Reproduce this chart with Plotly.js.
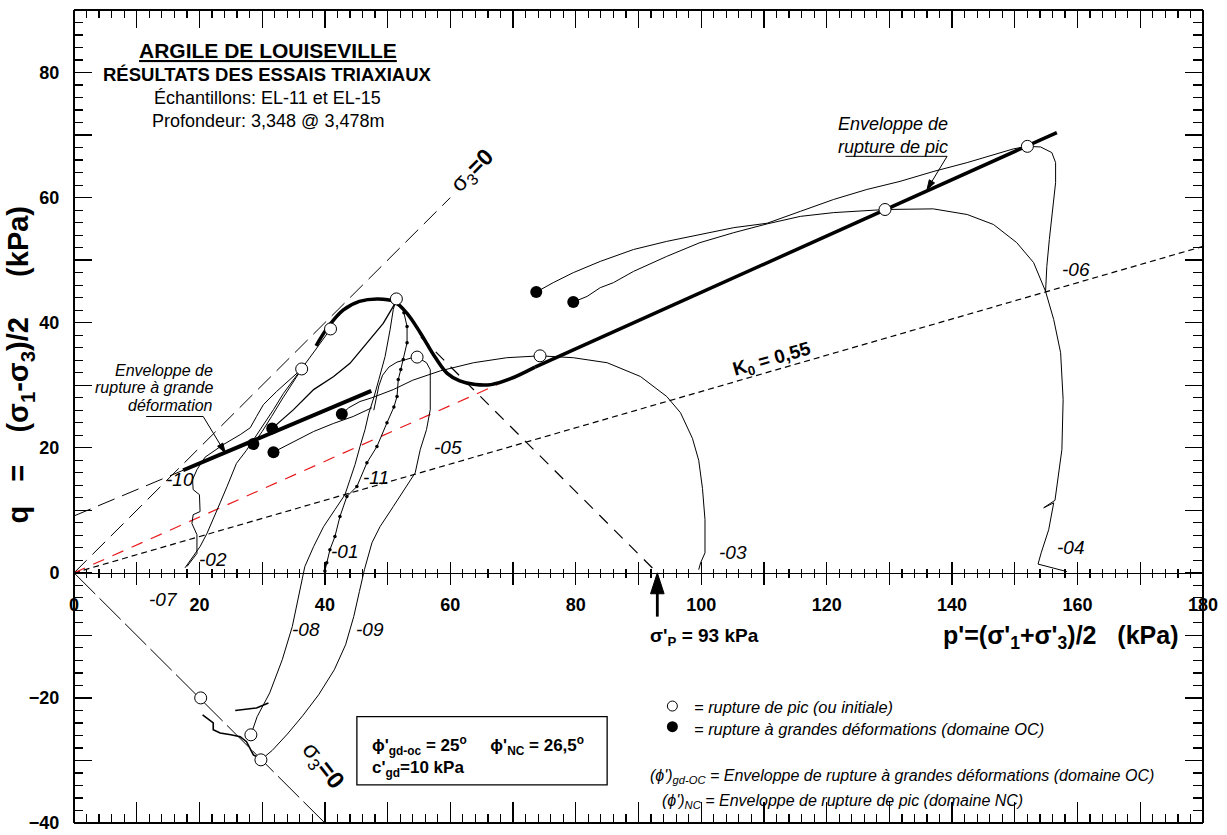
<!DOCTYPE html>
<html><head><meta charset="utf-8">
<script src="https://cdn.plot.ly/plotly-3.0.1.min.js"></script>
<style>html,body{margin:0;padding:0;background:#fff;}#chart{width:1227px;height:835px;}</style>
</head><body><div id="chart"></div>
<script>
// ---------- axis ranges ----------
const pRange = [0, 180];
const qRange = [-40, 90];

// ---------- reference lines ----------
const sig3UpP = [0, 60],   sig3UpQ = [0, 60];
const sig3LoP = [0, 40],   sig3LoQ = [0, -40];
const k0P = [0, 180],      k0Q = [0, 52.2];
const ncExtP = [0, 67.5],  ncExtQ = [0, 30.1];
const sigPP = [55.3, 93],  sigPQ = [37.7, 0];
const ocDashP = [0, 17.4], ocDashQ = [9.1, 16.4];
const ocEnvP = [17.4, 47.4], ocEnvQ = [16.4, 29.1];
const ncCurveP = [38.6, 40.5, 42.9, 45.5, 48.5, 51.0, 53.0, 55.2, 57.5, 59.5, 61.5, 64.0, 66.5, 69.5, 73.5];
const ncCurveQ = [36.3, 39.3, 42.0, 43.4, 43.8, 43.4, 41.6, 38.4, 34.6, 31.9, 30.7, 30.1, 30.1, 31.0, 32.9];
const ncEnvP = [73.5, 156.7], ncEnvQ = [32.9, 70.4];

// ---------- stress paths ----------
const t03P = [99.6, 99.9, 100.6, 100.6, 100.2, 99.6, 98.6, 96.7, 94.5, 90.3, 85.0, 79.6, 74.3, 69.0, 63.7, 58.4, 54.0, 50.9, 47.5, 45.6, 43.8, 42.7];
const t03Q = [0.5, 1.6, 3.2, 8.5, 13.5, 18.0, 21.5, 25.6, 28.2, 31.4, 33.6, 34.4, 34.7, 34.4, 33.6, 32.3, 30.8, 29.3, 28.0, 27.4, 26.4, 25.4];
const t04P = [158.3, 153.7, 154.2, 155.4, 156.2, 154.6, 156.4, 156.7, 157.5, 157.7, 157.3, 156.2, 154.9, 153.0, 150.3, 146.6, 142.4, 137.0, 129.3, 121.1, 115.8, 110.5, 105.2, 99.8, 94.5, 89.2, 86.0, 83.9, 81.8, 79.6];
const t04Q = [0.2, 1.4, 3.2, 6.9, 11.2, 10.4, 11.6, 13.8, 19.7, 27.7, 35.2, 40.5, 45.0, 49.6, 52.8, 55.7, 57.3, 58.2, 58.1, 57.6, 57.0, 55.8, 54.4, 52.8, 50.6, 48.2, 46.4, 45.6, 44.2, 43.3];
const t06P = [154.9, 155.1, 155.5, 156.0, 156.5, 156.5, 155.9, 154.1, 152.0, 149.8, 142.4, 137.1, 131.7, 126.4, 121.1, 115.8, 110.5, 105.2, 99.8, 94.5, 89.2, 83.9, 79.6, 76.4, 73.7];
const t06Q = [45.0, 49.0, 53.3, 58.1, 62.4, 65.6, 67.2, 68.1, 68.2, 67.8, 65.6, 64.2, 62.6, 61.3, 59.7, 57.8, 55.9, 55.2, 54.1, 53.0, 51.7, 49.8, 48.0, 46.4, 44.9];
const t09P = [29.8, 31.6, 34.0, 36.5, 39.0, 41.5, 43.3, 44.6, 45.5, 46.3, 47.5, 48.8, 50.9, 53.0, 54.4, 55.2, 56.2, 56.8, 56.8, 56.8, 56.2, 54.7];
const t09Q = [-29.9, -28.4, -25.8, -22.8, -19.5, -15.5, -11.5, -7.0, -3.0, 0.5, 4.8, 7.4, 10.6, 13.8, 16.0, 19.7, 22.9, 26.1, 28.8, 32.5, 33.6, 34.5];
const t05P = [54.7, 53.9, 52.9, 51.5, 50.2, 49.2, 48.6, 48.2, 47.8];
const t05Q = [34.5, 34.4, 34.1, 33.7, 32.9, 31.6, 29.9, 27.8, 26.0];
const t08P = [28.2, 29.2, 31.2, 33.2, 34.8, 35.9, 36.8, 38.2, 39.8, 41.6, 43.2, 44.0, 44.8, 45.6, 46.4, 47.0, 47.8, 48.6, 49.6, 50.4, 50.9, 51.4];
const t08Q = [-25.9, -23.0, -19.2, -13.9, -8.6, -3.2, 1.0, 4.2, 7.4, 10.1, 12.5, 14.9, 17.3, 20.2, 22.9, 25.5, 28.0, 30.9, 34.6, 38.9, 42.1, 43.8];
const t08bP = [25.7, 27.5, 29.1, 31.0];
const t08bQ = [-22.0, -21.8, -21.6, -20.8];
const t11P = [40.0, 40.3, 40.8, 41.6, 42.4, 43.5, 45.1, 46.7, 48.3, 49.9, 51.0, 51.5, 51.7, 52.1, 52.5, 53.1, 53.1, 52.6];
const t11Q = [0.3, 1.6, 3.7, 5.8, 9.0, 12.2, 13.8, 17.6, 20.2, 24.0, 26.5, 28.2, 30.9, 32.5, 34.1, 36.8, 39.4, 41.6];
const t01P = [51.4, 50.9, 49.3, 46.7, 44.0, 41.4, 38.2, 35.0, 33.0, 31.6];
const t01Q = [43.8, 42.6, 39.9, 36.8, 33.5, 31.4, 29.3, 26.1, 24.4, 23.1];
const t02P = [17.7, 19.0, 20.1, 21.2, 22.2, 23.3, 24.4, 25.9, 27.5, 29.7, 31.8, 33.4, 36.3, 38.6, 40.9];
const t02Q = [0.8, 2.6, 4.2, 6.3, 8.5, 11.2, 13.8, 17.5, 19.6, 22.9, 26.1, 28.7, 32.6, 35.8, 39.0];
const t02bP = [36.3, 34.8, 33.2, 31.5, 30.0, 28.6];
const t02bQ = [32.6, 30.3, 27.8, 25.0, 22.6, 20.6];
const t10P = [18.0, 19.6, 19.6, 18.8, 19.0, 20.1, 20.0, 19.0, 18.9, 19.6, 20.9, 23.8, 26.5, 28.1, 29.1, 30.2, 32.3, 34.5, 36.3];
const t10Q = [1.0, 3.1, 6.1, 7.9, 9.3, 9.8, 12.5, 13.3, 14.9, 16.5, 18.5, 20.5, 22.1, 23.2, 25.0, 26.9, 29.0, 31.0, 32.6];
const t12P = [31.8, 33.2, 35.0, 38.2, 41.4, 44.5, 47.5];
const t12Q = [19.3, 20.0, 21.0, 22.6, 23.9, 25.0, 26.4];
const t07P = [20.5, 21.2, 22.2, 22.2, 23.3, 25.0, 26.5, 27.5, 28.6, 29.8];
const t07Q = [-22.7, -23.3, -24.0, -25.1, -25.6, -25.9, -26.2, -27.0, -29.1, -29.8];

// ---------- failure points ----------
const openP = [36.3, 40.9, 51.4, 54.7, 74.3, 129.3, 152.0, 20.2, 28.2, 29.8];
const openQ = [32.6, 39.0, 43.8, 34.5, 34.7, 58.1, 68.2, -20.0, -25.9, -29.9];
const filledP = [28.6, 31.6, 31.8, 42.7, 73.7, 79.6];
const filledQ = [20.6, 23.1, 19.3, 25.4, 44.9, 43.3];
const legendOpenP = [95.4], legendOpenQ = [-21.3];
const legendFillP = [95.4], legendFillQ = [-24.6];

// ---------- arrows (tail, tip) ----------
const arrowGdP = [20.6, 24.1],  arrowGdQ = [25.0, 19.2];
const arrowPicP = [139.2, 136.0], arrowPicQ = [66.6, 61.3];
const arrowSpP = [93, 93],      arrowSpQ = [-7.0, 0.0];

// ---------- test labels ----------
const testLabels = ['-10','-02','-01','-11','-05','-03','-04','-06','-07','-08','-09'];
const testLabelP = [16.9, 22.2, 43.2, 48.2, 59.6, 105.1, 158.9, 159.8, 14.2, 37.0, 47.2];
const testLabelQ = [14.9, 2.1, 3.4, 15.2, 20.0, 3.2, 4.0, 48.5, -4.3, -9.1, -9.1];

const F = 'Liberation Sans, Arial, sans-serif';
const BLK = 'black';
function ln(x, y, width, dash, color, extra) {
  return Object.assign({x: x, y: y, type: 'scatter', mode: 'lines', hoverinfo: 'skip', showlegend: false,
    line: {color: color || BLK, width: width || 1, dash: dash || 'solid'}}, extra || {});
}
function arrow(x, y, width, size) {
  return {x: x, y: y, type: 'scatter', mode: 'lines+markers', hoverinfo: 'skip', showlegend: false,
    line: {color: BLK, width: width},
    marker: {symbol: ['circle', 'arrow'], size: [0, size], angleref: 'previous', color: BLK, opacity: 1,
      line: {width: 1, color: BLK}}};
}
function dummy(xa, ya) {
  return {x: [0], y: [-40], xaxis: xa, yaxis: ya, type: 'scatter', mode: 'markers', marker: {opacity: 0},
    hoverinfo: 'skip', showlegend: false};
}
const traces = [
  ln(sig3UpP, sig3UpQ, 1, '18px,8px'),
  ln(sig3LoP, sig3LoQ, 1, '30px,6px'),
  ln(k0P, k0Q, 1.2, '6px,4px'),
  ln(ncExtP, ncExtQ, 1.2, '12px,9px', '#e8191b'),
  ln(sigPP, sigPQ, 1.2, '12px,9px'),
  ln(ocDashP, ocDashQ, 1, '18px,8px'),
  ln(t03P, t03Q), ln(t04P, t04Q), ln(t06P, t06Q), ln(t09P, t09Q), ln(t05P, t05Q),
  ln(t08P, t08Q), ln(t08bP, t08bQ, 1.6), ln(t01P, t01Q, 1.3), ln(t02P, t02Q), ln(t02bP, t02bQ),
  ln(t10P, t10Q), ln(t12P, t12Q), ln(t07P, t07Q, 1.6),
  ln(t11P, t11Q, 1, 'solid', BLK, {mode: 'lines+markers', marker: {size: 3.5, color: BLK}}),
  ln(ocEnvP, ocEnvQ, 4),
  ln(ncCurveP, ncCurveQ, 3.5, 'solid', BLK, {line: {color: BLK, width: 3.5, shape: 'spline', smoothing: 1}}),
  ln(ncEnvP, ncEnvQ, 3.5),
  arrow(arrowGdP, arrowGdQ, 1, 10),
  arrow(arrowPicP, arrowPicQ, 1, 10),
  arrow(arrowSpP, arrowSpQ, 2.8, 22),
  {x: openP, y: openQ, type: 'scatter', mode: 'markers', hoverinfo: 'skip', showlegend: false,
    marker: {size: 12, color: 'white', line: {color: BLK, width: 1}}},
  {x: filledP, y: filledQ, type: 'scatter', mode: 'markers', hoverinfo: 'skip', showlegend: false,
    marker: {size: 12, color: BLK}},
  {x: legendOpenP, y: legendOpenQ, type: 'scatter', mode: 'markers', hoverinfo: 'skip', showlegend: false,
    marker: {size: 10, color: 'white', line: {color: BLK, width: 1}}},
  {x: legendFillP, y: legendFillQ, type: 'scatter', mode: 'markers', hoverinfo: 'skip', showlegend: false,
    marker: {size: 11, color: BLK}},
  dummy('x2', 'y'), dummy('x3', 'y'), dummy('x4', 'y'), dummy('x5', 'y'),
  dummy('x', 'y2'), dummy('x', 'y3')
];

const Y0POS = (0 - qRange[0]) / (qRange[1] - qRange[0]);
const common = {showgrid: false, zeroline: false, fixedrange: true, tickcolor: BLK, linecolor: BLK};
const labelFont = {family: F, size: 18, color: BLK, weight: 'bold'};
function minor(dir, len) {
  return {tickmode: 'linear', tick0: 0, dtick: 2, ticks: dir, ticklen: len, tickwidth: 1.2, tickcolor: BLK};
}
function tickAxis(extra, dir, len, mlen) {
  return Object.assign({}, common, {ticks: dir, tickmode: 'linear', tick0: 0, dtick: 10, ticklen: len,
    tickwidth: 1.3, showticklabels: false, minor: minor(dir, mlen)}, extra);
}
const layout = {
  width: 1227, height: 835,
  margin: {l: 74, r: 24, t: 10, b: 12},
  paper_bgcolor: 'white', plot_bgcolor: 'white',
  showlegend: false,
  // labelled axis through q = 0
  xaxis: Object.assign({}, common, {range: pRange, anchor: 'free', position: Y0POS, showline: true, linewidth: 1.5,
    ticks: '', tickmode: 'linear', tick0: 0, dtick: 20, tickfont: labelFont, ticklabelstandoff: 15}),
  xaxis4: tickAxis({range: pRange, overlaying: 'x', anchor: 'free', position: Y0POS, showline: false}, 'inside', 11, 4),
  xaxis5: tickAxis({range: pRange, overlaying: 'x', anchor: 'free', position: Y0POS, showline: false}, 'outside', 11, 4),
  xaxis2: tickAxis({range: pRange, overlaying: 'x', side: 'top', anchor: 'free', position: 1, showline: true, linewidth: 2}, 'inside', 17, 7),
  xaxis3: tickAxis({range: pRange, overlaying: 'x', side: 'bottom', anchor: 'free', position: 0, showline: true, linewidth: 2}, 'inside', 20, 8),
  yaxis: Object.assign({}, common, {range: qRange, anchor: 'free', position: 0, side: 'left', showline: true, linewidth: 2,
    ticks: '', tickmode: 'linear', tick0: 0, dtick: 20, tickfont: labelFont, ticklabelstandoff: 10}),
  yaxis3: tickAxis({range: qRange, overlaying: 'y', side: 'left', anchor: 'free', position: 0, showline: false}, 'inside', 17, 8),
  yaxis2: tickAxis({range: qRange, overlaying: 'y', side: 'right', anchor: 'free', position: 1, showline: true, linewidth: 2}, 'inside', 17, 9),
  shapes: [
    {type: 'line', xref: 'x', yref: 'y', x0: 11.5, y0: 25.0, x1: 20.6, y1: 25.0, line: {color: BLK, width: 1}},
    {type: 'line', xref: 'x', yref: 'y', x0: 123.0, y0: 66.6, x1: 139.2, y1: 66.6, line: {color: BLK, width: 1}},
    {type: 'rect', xref: 'x', yref: 'y', x0: 45.1, y0: -23.0, x1: 85.0, y1: -33.9, line: {color: BLK, width: 1.3}, fillcolor: 'rgba(0,0,0,0)'}
  ],
  annotations: []
};

const A = layout.annotations;
function txt(x, y, text, size, opts) {
  A.push(Object.assign({x: x, y: y, xref: 'x', yref: 'y', text: text, showarrow: false,
    font: {family: F, size: size, color: BLK}}, opts || {}));
}
const sp = function (n) { return new Array(n + 1).join('&nbsp;'); };
// title block
txt(30.9, 83.5, '<b><u>ARGILE DE LOUISEVILLE</u></b>', 21);
txt(30.9, 79.7, '<b>RÉSULTATS DES ESSAIS TRIAXIAUX</b>', 18.5);
txt(30.9, 75.9, 'Échantillons: EL-11 et EL-15', 18);
txt(30.9, 72.2, 'Profondeur: 3,348 @ 3,478m', 18);
// axis titles
txt(-0.0478, 33.3, '<b>q' + sp(3) + '=' + sp(4) + '(σ<sub>1</sub>-σ<sub>3</sub>)/2' + sp(5) + '(kPa)</b>', 29,
  {xref: 'paper', textangle: -90, xanchor: 'center', yanchor: 'middle'});
txt(157.3, -10.2, '<b>p\'=(σ\'<sub>1</sub>+σ\'<sub>3</sub>)/2' + sp(3) + '(kPa)</b>', 25);
// reference labels
txt(63.5, 64.2, 'σ<sub>3</sub><b>=0</b>', 23, {textangle: -45});
txt(39.6, -31.0, 'σ<sub>3</sub><b>=0</b>', 24, {textangle: 52});
txt(111.3, 34.1, '<b>K<sub>0</sub> = 0,55</b>', 19, {textangle: -16});
txt(100.6, -10.2, '<b>σ\'<sub>P</sub> = 93 kPa</b>', 19);
// envelope call-outs
txt(22.5, 32.4, '<i>Enveloppe de</i>', 16, {xanchor: 'right'});
txt(22.5, 29.6, '<i>rupture à grande</i>', 16, {xanchor: 'right'});
txt(22.5, 26.8, '<i>déformation</i>', 16, {xanchor: 'right'});
txt(130.6, 71.7, '<i>Enveloppe de</i>', 18);
txt(130.6, 68.1, '<i>rupture de pic</i>', 18);
// box text
txt(47.2, -27.6, '<b>ϕ\'<sub>gd-oc</sub> = 25<sup>o</sup>' + sp(5) + 'ϕ\'<sub>NC</sub> = 26,5<sup>o</sup></b>', 17, {xanchor: 'left'});
txt(47.2, -31.3, '<b>c\'<sub>gd</sub>=10 kPa</b>', 17, {xanchor: 'left'});
// legend text
txt(98.6, -21.4, '<i>= rupture de pic (ou initiale)</i>', 16.4, {xanchor: 'left'});
txt(98.6, -25.0, '<i>= rupture à grandes déformations (domaine OC)</i>', 16.4, {xanchor: 'left'});
txt(91.5, -32.5, '<i>(ϕ\')<sub>gd-OC</sub> = Enveloppe de rupture à grandes déformations (domaine OC)</i>', 16, {xanchor: 'left'});
txt(93.5, -36.5, '<i>(ϕ\')<sub>NC</sub> = Enveloppe de rupture de pic (domaine NC)</i>', 16, {xanchor: 'left'});
// test labels
testLabels.forEach(function (t, i) { txt(testLabelP[i], testLabelQ[i], '<i>' + t + '</i>', 19); });

Plotly.newPlot('chart', traces, layout, {staticPlot: true, displayModeBar: false});
</script></body></html>
